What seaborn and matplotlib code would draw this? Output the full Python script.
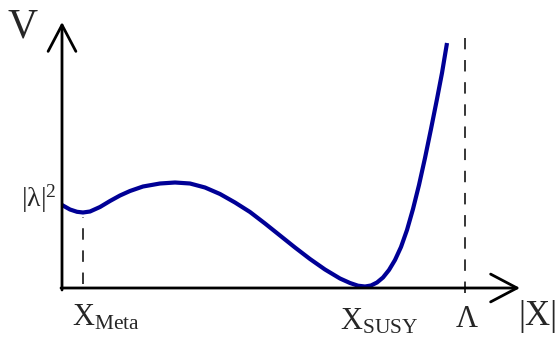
import matplotlib
matplotlib.use("Agg")
import matplotlib.pyplot as plt
import seaborn as sns
import pandas as pd

# potential curve (|X| along, V up)
x_vals = [0.00, 0.08, 0.15, 0.21, 0.28, 0.38, 0.48, 0.58, 0.68, 0.81,
          0.98, 1.13, 1.28, 1.43, 1.58, 1.73, 1.88, 2.03, 2.18, 2.33,
          2.48, 2.63, 2.78, 2.88, 2.96, 3.03, 3.09, 3.15, 3.21, 3.27,
          3.33, 3.39, 3.45, 3.51, 3.57, 3.63, 3.69, 3.75, 3.80, 3.85]
v_vals = [0.830, 0.785, 0.762, 0.755, 0.765, 0.810, 0.870, 0.925, 0.970, 1.015,
          1.045, 1.055, 1.045, 1.005, 0.940, 0.855, 0.760, 0.645, 0.525, 0.405,
          0.290, 0.185, 0.095, 0.050, 0.023, 0.015, 0.025, 0.055, 0.105, 0.180,
          0.280, 0.410, 0.580, 0.790, 1.030, 1.300, 1.590, 1.890, 2.150, 2.450]

x_meta = 0.21
v_meta = 0.755
x_lambda = 4.03

df = pd.DataFrame({'X': x_vals, 'V': v_vals})

sns.set_theme(style='white')
plt.rcParams['font.family'] = ['Liberation Serif', 'DejaVu Serif']
plt.rcParams['mathtext.fontset'] = 'custom'
plt.rcParams['mathtext.rm'] = 'Liberation Serif'
plt.rcParams['mathtext.it'] = 'Liberation Serif:italic'

fig = plt.figure(figsize=(5.58, 3.40), dpi=100)
ax = fig.add_axes([0, 0, 1, 1])
ax.set_xlim(-0.62, 4.96)
ax.set_ylim(-0.52, 2.88)
ax.axis('off')

# axes with open arrow heads
arrow = dict(arrowstyle='->,head_length=1.9,head_width=1.0', lw=2.0, color='black',
             shrinkA=0, shrinkB=0, mutation_scale=10)
ax.annotate('', xy=(0, 2.66), xytext=(0, -0.02), arrowprops=arrow)
ax.annotate('', xy=(4.58, 0), xytext=(-0.01, 0), arrowprops=arrow)

# dashed guides
ax.plot([x_meta, x_meta], [0.04, v_meta - 0.04], color='black', lw=1.1,
        ls=(0, (7.5, 7)))
ax.plot([x_lambda, x_lambda], [-0.05, 2.50], color='black', lw=1.1,
        ls=(0, (7.5, 7)))

sns.lineplot(data=df, x='X', y='V', ax=ax, color='#000096', lw=3.0, sort=False,
             solid_joinstyle='round', solid_capstyle='butt')

ax.text(-0.54, 2.50, 'V', fontsize=30, ha='left', va='baseline')
ax.text(-0.05, 0.81, r'$\mathrm{|λ|}^{\mathrm{2}}$', fontsize=20, ha='right', va='baseline')
ax.text(0.10, -0.38, r'$\mathrm{X}_{\mathrm{Meta}}$', fontsize=22, ha='left', va='baseline')
ax.text(2.78, -0.42, r'$\mathrm{X}_{\mathrm{SUSY}}$', fontsize=22, ha='left', va='baseline')
ax.text(4.05, -0.39, 'Λ', fontsize=22, ha='center', va='baseline')
ax.text(4.56, -0.37, '|X|', fontsize=25, ha='left', va='baseline')

fig.savefig('out.png', dpi=100)
